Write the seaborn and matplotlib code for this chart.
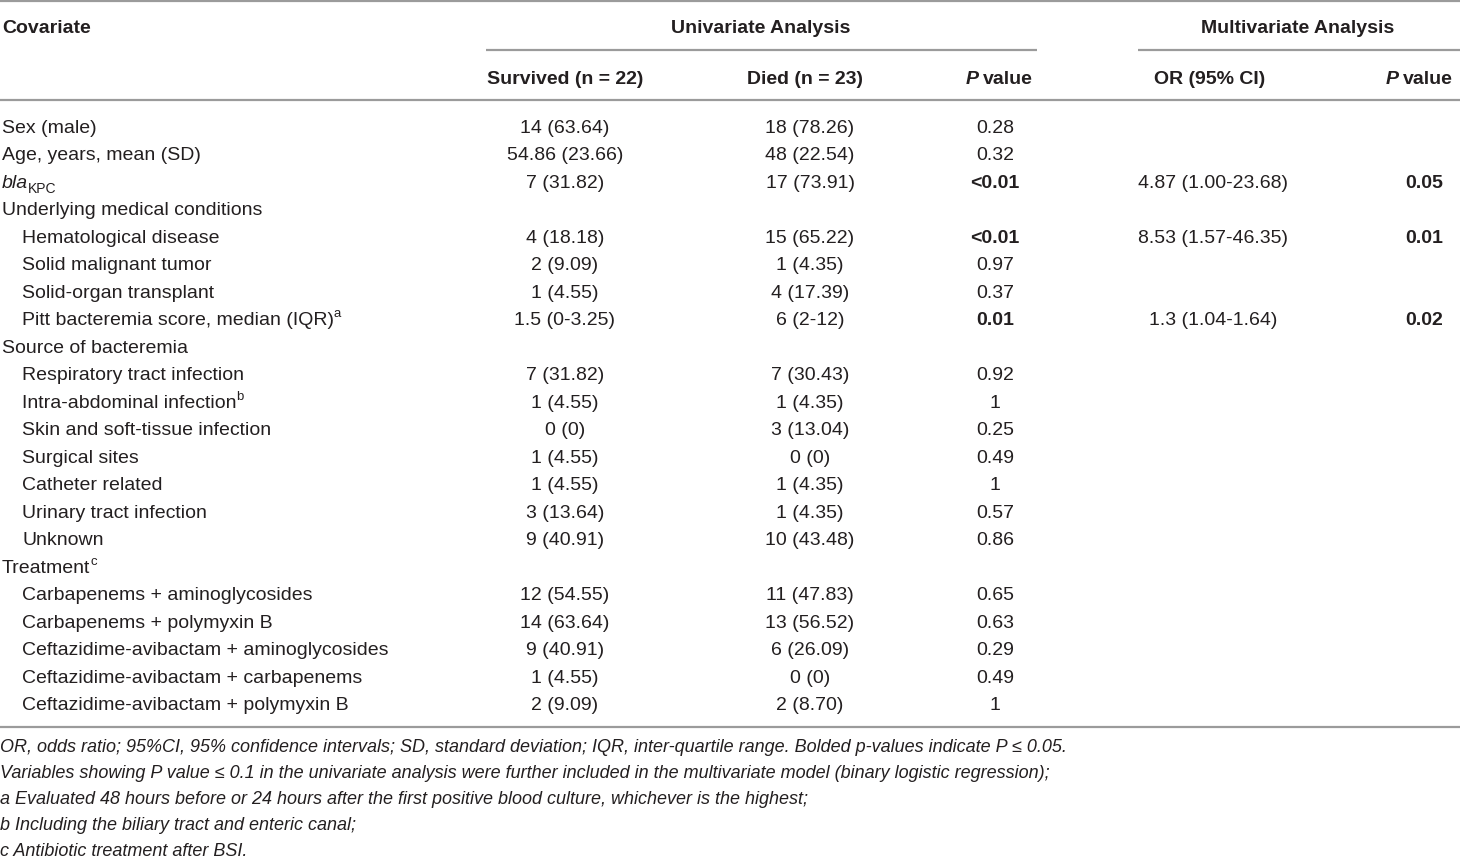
import matplotlib
matplotlib.use("Agg")
import matplotlib.pyplot as plt
import seaborn as sns

# --- Table data ---
covariates = [
    "Sex (male)", "Age, years, mean (SD)", "bla", "Underlying medical conditions",
    "Hematological disease", "Solid malignant tumor", "Solid-organ transplant",
    "Pitt bacteremia score, median (IQR)", "Source of bacteremia",
    "Respiratory tract infection", "Intra-abdominal infection",
    "Skin and soft-tissue infection", "Surgical sites", "Catheter related",
    "Urinary tract infection", "Unknown", "Treatment",
    "Carbapenems + aminoglycosides", "Carbapenems + polymyxin B",
    "Ceftazidime-avibactam + aminoglycosides",
    "Ceftazidime-avibactam + carbapenems", "Ceftazidime-avibactam + polymyxin B",
]
indented = [0, 0, 0, 0, 1, 1, 1, 1, 0, 1, 1, 1, 1, 1, 1, 1, 0, 1, 1, 1, 1, 1]
superscripts = {7: "a", 10: "b", 16: "c"}
survived = [
    "14 (63.64)", "54.86 (23.66)", "7 (31.82)", "", "4 (18.18)", "2 (9.09)",
    "1 (4.55)", "1.5 (0-3.25)", "", "7 (31.82)", "1 (4.55)", "0 (0)", "1 (4.55)",
    "1 (4.55)", "3 (13.64)", "9 (40.91)", "", "12 (54.55)", "14 (63.64)",
    "9 (40.91)", "1 (4.55)", "2 (9.09)",
]
died = [
    "18 (78.26)", "48 (22.54)", "17 (73.91)", "", "15 (65.22)", "1 (4.35)",
    "4 (17.39)", "6 (2-12)", "", "7 (30.43)", "1 (4.35)", "3 (13.04)", "0 (0)",
    "1 (4.35)", "1 (4.35)", "10 (43.48)", "", "11 (47.83)", "13 (56.52)",
    "6 (26.09)", "0 (0)", "2 (8.70)",
]
p_uni = [
    "0.28", "0.32", "<0.01", "", "<0.01", "0.97", "0.37", "0.01", "", "0.92",
    "1", "0.25", "0.49", "1", "0.57", "0.86", "", "0.65", "0.63", "0.29",
    "0.49", "1",
]
p_uni_bold = [0, 0, 1, 0, 1, 0, 0, 1, 0, 0, 0, 0, 0, 0, 0, 0, 0, 0, 0, 0, 0, 0]
or_ci = {2: "4.87 (1.00-23.68)", 4: "8.53 (1.57-46.35)", 7: "1.3 (1.04-1.64)"}
p_multi = {2: "0.05", 4: "0.01", 7: "0.02"}

footnotes = [
    "OR, odds ratio; 95%CI, 95% confidence intervals; SD, standard deviation; "
    "IQR, inter-quartile range. Bolded p-values indicate P \u2264 0.05.",
    "Variables showing P value \u2264 0.1 in the univariate analysis were further "
    "included in the multivariate model (binary logistic regression);",
    "a Evaluated 48 hours before or 24 hours after the first positive blood culture, "
    "whichever is the highest;",
    "b Including the biliary tract and enteric canal;",
    "c Antibiotic treatment after BSI.",
]

# --- Style ---
sns.set_theme(style="white")
plt.rcParams["font.family"] = ["Liberation Sans", "DejaVu Sans"]
TXT = "#231f20"
LINE = "#9b9b9b"
FS = 14
SUP = 9.5

fig = plt.figure(figsize=(14.6, 8.58), dpi=100)
ax = fig.add_axes([0, 0, 1, 1])
ax.set_xlim(0, 1460)
ax.set_ylim(858, 0)
ax.axis("off")
renderer = fig.canvas.get_renderer()


def rich(x, y, parts, ha="left"):
    """Draw a run of text pieces on one baseline. parts: (text, kwargs, dy) or gap px."""
    items = []
    for p in parts:
        if isinstance(p, (int, float)):
            items.append((None, p))
            continue
        s, kw, dy = p
        style = dict(fontsize=FS, color=TXT)
        style.update(kw)
        t = ax.text(0, y + dy, s, va="baseline", ha="left", **style)
        items.append((t, t.get_window_extent(renderer).width))
    total = sum(w for _, w in items)
    cx = {"left": x, "center": x - total / 2, "right": x - total}[ha]
    for t, w in items:
        if t is not None:
            t.set_x(cx)
        cx += w


def cell(x, y, s, ha="center", bold=False):
    if s:
        rich(x, y, [(s, {"fontweight": "bold" if bold else "normal"}, 0)], ha=ha)


# column centres
X_COV, X_IND = 2, 22
X_SURV, X_DIED, X_PU, X_OR, X_PM = 565, 810, 995, 1213, 1424

# --- Header ---
B = {"fontweight": "bold"}
BI = {"fontweight": "bold", "fontstyle": "italic"}
h1, h2 = 33, 84
rich(X_COV, h1, [("Covariate", B, 0)])
rich(761, h1, [("Univariate Analysis", B, 0)], ha="center")
rich(1298, h1, [("Multivariate Analysis", B, 0)], ha="center")
rich(X_SURV, h2, [("Survived (n = 22)", B, 0)], ha="center")
rich(X_DIED - 5, h2, [("Died (n = 23)", B, 0)], ha="center")
rich(999, h2, [("P", BI, 0), 4, ("value", B, 0)], ha="center")
rich(1210, h2, [("OR (95% CI)", B, 0)], ha="center")
rich(1419, h2, [("P", BI, 0), 4, ("value", B, 0)], ha="center")

ax.hlines(1, 0, 1460, color=LINE, lw=1.6)
ax.hlines(50, 486, 1037, color=LINE, lw=1.6)
ax.hlines(50, 1138, 1460, color=LINE, lw=1.6)
ax.hlines(100, 0, 1460, color=LINE, lw=1.6)
ax.hlines(727, 0, 1460, color=LINE, lw=1.6)

# --- Body ---
y0, dy = 126, 27.48
for i, name in enumerate(covariates):
    yb = y0 + i * dy + 7
    x = X_IND if indented[i] else X_COV
    if name == "bla":
        rich(x, yb, [("bla", {"fontstyle": "italic"}, 0), ("KPC", {"fontsize": SUP + 0.5}, 5)])
    elif i in superscripts:
        rich(x, yb, [(name, {}, 0), (superscripts[i], {"fontsize": SUP}, -8)])
    else:
        rich(x, yb, [(name, {}, 0)])
    cell(X_SURV, yb, survived[i])
    cell(X_DIED, yb, died[i])
    cell(X_PU, yb, p_uni[i], bold=bool(p_uni_bold[i]))
    cell(X_OR, yb, or_ci.get(i, ""))
    cell(X_PM, yb, p_multi.get(i, ""), bold=True)

# --- Footnotes ---
for k, note in enumerate(footnotes):
    rich(0, 752 + k * 25.9, [(note, {"fontstyle": "italic", "fontsize": 12.95}, 0)])

fig.savefig("out.png", dpi=100)
